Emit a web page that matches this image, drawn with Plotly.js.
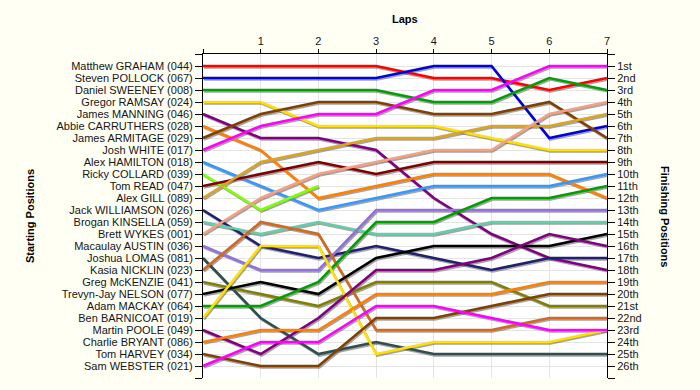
<!DOCTYPE html>
<html>
<head>
<meta charset="utf-8">
<script src="https://cdn.plot.ly/plotly-3.0.1.min.js"></script>
<style>html,body{margin:0;padding:0;background:#FFFFF4;}#chart{width:700px;height:390px;}</style>
</head>
<body>
<div id="chart"></div>
<script>
const laps = [0, 1, 2, 3, 4, 5, 6, 7];
const lapLabels = ['', '1', '2', '3', '4', '5', '6', '7'];
const drivers = [
  'Matthew GRAHAM (044)', 'Steven POLLOCK (067)', 'Daniel SWEENEY (008)', 'Gregor RAMSAY (024)',
  'James MANNING (046)', 'Abbie CARRUTHERS (028)', 'James ARMITAGE (029)', 'Josh WHITE (017)',
  'Alex HAMILTON (018)', 'Ricky COLLARD (039)', 'Tom READ (047)', 'Alex GILL (089)',
  'Jack WILLIAMSON (026)', 'Brogan KINSELLA (059)', 'Brett WYKES (001)', 'Macaulay AUSTIN (036)',
  'Joshua LOMAS (081)', 'Kasia NICKLIN (023)', 'Greg McKENZIE (041)', 'Trevyn-Jay NELSON (077)',
  'Adam MACKAY (064)', 'Ben BARNICOAT (019)', 'Martin POOLE (049)', 'Charlie BRYANT (086)',
  'Tom HARVEY (034)', 'Sam WEBSTER (021)'
];
const finishLabels = ['1st','2nd','3rd','4th','5th','6th','7th','8th','9th','10th','11th','12th','13th',
  '14th','15th','16th','17th','18th','19th','20th','21st','22nd','23rd','24th','25th','26th'];
// position of each driver at laps 0..7 (same order as drivers)
const lapPositions = [
  [1, 1, 1, 1, 2, 2, 3, 2],
  [2, 2, 2, 2, 1, 1, 7, 6],
  [3, 3, 3, 3, 4, 4, 2, 3],
  [4, 4, 6, 6, 6, 7, 8, 8],
  [5, 7, 7, 8, 12, 15, 17, 18],
  [6, 8, 12, 11, 10, 10, 10, 12],
  [7, 5, 4, 4, 5, 5, 4, 7],
  [8, 6, 5, 5, 3, 3, 1, 1],
  [9, 11, 13, 12, 11, 11, 11, 10],
  [10, 13, 11],
  [11, 10, 9, 10, 9, 9, 9, 9],
  [12, 9, 8, 7, 7, 6, 6, 5],
  [13, 16, 17, 16, 17, 18, 17, 17],
  [14, 15, 14, 15, 15, 14, 14, 14],
  [15, 12, 10, 9, 8, 8, 5, 4],
  [16, 18, 18, 13, 13, 13, 13, 13],
  [17, 22, 25, 24, 25, 25, 25, 25],
  [18, 14, 15, 23, 23, 23, 22, 22],
  [19, 20, 21, 19, 19, 19, 21, 21],
  [20, 19, 20, 17, 16, 16, 16, 15],
  [21, 21, 19, 14, 14, 12, 12, 11],
  [22, 16, 16, 25, 24, 24, 24, 23],
  [23, 25, 22, 18, 18, 17, 15, 16],
  [24, 23, 23, 20, 20, 20, 19, 19],
  [25, 26, 26, 22, 22, 21, 20, 20],
  [26, 24, 24, 21, 21, 22, 23, 23]
];
const colors = [
  '#FF0000', '#0000E0', '#00A000', '#FFE000', '#800080', '#FF8000', '#804000', '#FF00FF',
  '#3399FF', '#80FF00', '#800000', '#DAA520', '#202070', '#66CDAA', '#F5A080', '#9370DB',
  '#2F4F4F', '#D2691E', '#808000', '#000000', '#00A000', '#FFE000', '#800080', '#FF8000',
  '#804000', '#FF00FF'
];

const posTicks = [];
for (let i = 0; i <= 27; i++) posTicks.push(i);
const leftText = [''].concat(drivers).concat(['']);
const rightText = [''].concat(finishLabels).concat(['']);

const plotW = 404, plotH = 324, mL = 203, mT = 54;
const shadowDx = 1 / plotW * 7;      // 1 px right
const shadowDy = 1.5 / plotH * 27;   // 1.5 px down

const traces = [];
// invisible anchor trace so the base axes (ticks, labels, grid) are drawn
traces.push({x: laps, y: laps.map(function () { return null; }), type: 'scatter', mode: 'lines',
  xaxis: 'x', yaxis: 'y', hoverinfo: 'skip', showlegend: false, line: {width: 0}});
lapPositions.forEach(function (p) {
  traces.push({
    x: laps.slice(0, p.length), y: p, type: 'scatter', mode: 'lines',
    xaxis: 'x2', yaxis: 'y2', hoverinfo: 'skip',
    line: {color: 'rgba(90,90,90,0.55)', width: 2.6}
  });
});
lapPositions.forEach(function (p, i) {
  traces.push({
    x: laps.slice(0, p.length), y: p, type: 'scatter', mode: 'lines',
    xaxis: 'x3', yaxis: 'y3', name: drivers[i],
    line: {color: colors[i], width: 2.6}
  });
});

const tickFont = {family: 'Liberation Sans, Arial, sans-serif', size: 11, color: '#151515'};
const layout = {
  width: 700, height: 390,
  margin: {l: mL, r: 700 - mL - plotW, t: mT, b: 390 - mT - plotH, pad: 0},
  paper_bgcolor: '#FFFFF4', plot_bgcolor: '#FFFFFF',
  showlegend: false,
  font: tickFont,
  xaxis: {
    range: [0, 7], side: 'top', anchor: 'y', tickmode: 'array', tickvals: laps, ticktext: lapLabels,
    ticks: 'outside', ticklen: 4, tickcolor: '#000', showline: true, linecolor: '#000', linewidth: 1,
    showgrid: true, gridcolor: '#E4E4E4', gridwidth: 1, zeroline: false, tickfont: tickFont
  },
  yaxis: {
    range: [27, 0], anchor: 'x', tickmode: 'array', tickvals: posTicks, ticktext: leftText,
    ticks: 'outside', ticklen: 7, tickcolor: '#000', showline: true, linecolor: '#000', linewidth: 1,
    showgrid: true, gridcolor: '#E4E4E4', gridwidth: 1, zeroline: false, tickfont: tickFont
  },
  xaxis2: {overlaying: 'x', range: [-shadowDx, 7 - shadowDx], visible: false, anchor: 'y2'},
  yaxis2: {overlaying: 'y', range: [27 - shadowDy, -shadowDy], visible: false, anchor: 'x2'},
  xaxis3: {overlaying: 'x', range: [0, 7], visible: false, anchor: 'y3'},
  yaxis3: {
    overlaying: 'y', side: 'right', anchor: 'x3', range: [27, 0], tickmode: 'array',
    tickvals: posTicks, ticktext: rightText, ticks: 'outside', ticklen: 7, tickcolor: '#000',
    showline: true, linecolor: '#000', linewidth: 1, showgrid: false, zeroline: false, tickfont: tickFont
  },
  annotations: [
    {text: '<b>Laps</b>', xref: 'paper', yref: 'paper', x: (405 - mL) / plotW, y: (mT + plotH - 19) / plotH,
     xanchor: 'center', yanchor: 'middle', showarrow: false, font: {family: 'Liberation Sans, Arial, sans-serif', size: 11, color: '#000'}},
    {text: '<b>Starting Positions</b>', xref: 'paper', yref: 'paper', x: (30 - mL) / plotW, y: 0.5,
     xanchor: 'center', yanchor: 'middle', textangle: -90, showarrow: false, font: {family: 'Liberation Sans, Arial, sans-serif', size: 11, color: '#000'}},
    {text: '<b>Finishing Positions</b>', xref: 'paper', yref: 'paper', x: (665 - mL) / plotW, y: 0.5,
     xanchor: 'center', yanchor: 'middle', textangle: 90, showarrow: false, font: {family: 'Liberation Sans, Arial, sans-serif', size: 11, color: '#000'}}
  ]
};
Plotly.newPlot('chart', traces, layout, {staticPlot: true, displayModeBar: false});
</script>
</body>
</html>
